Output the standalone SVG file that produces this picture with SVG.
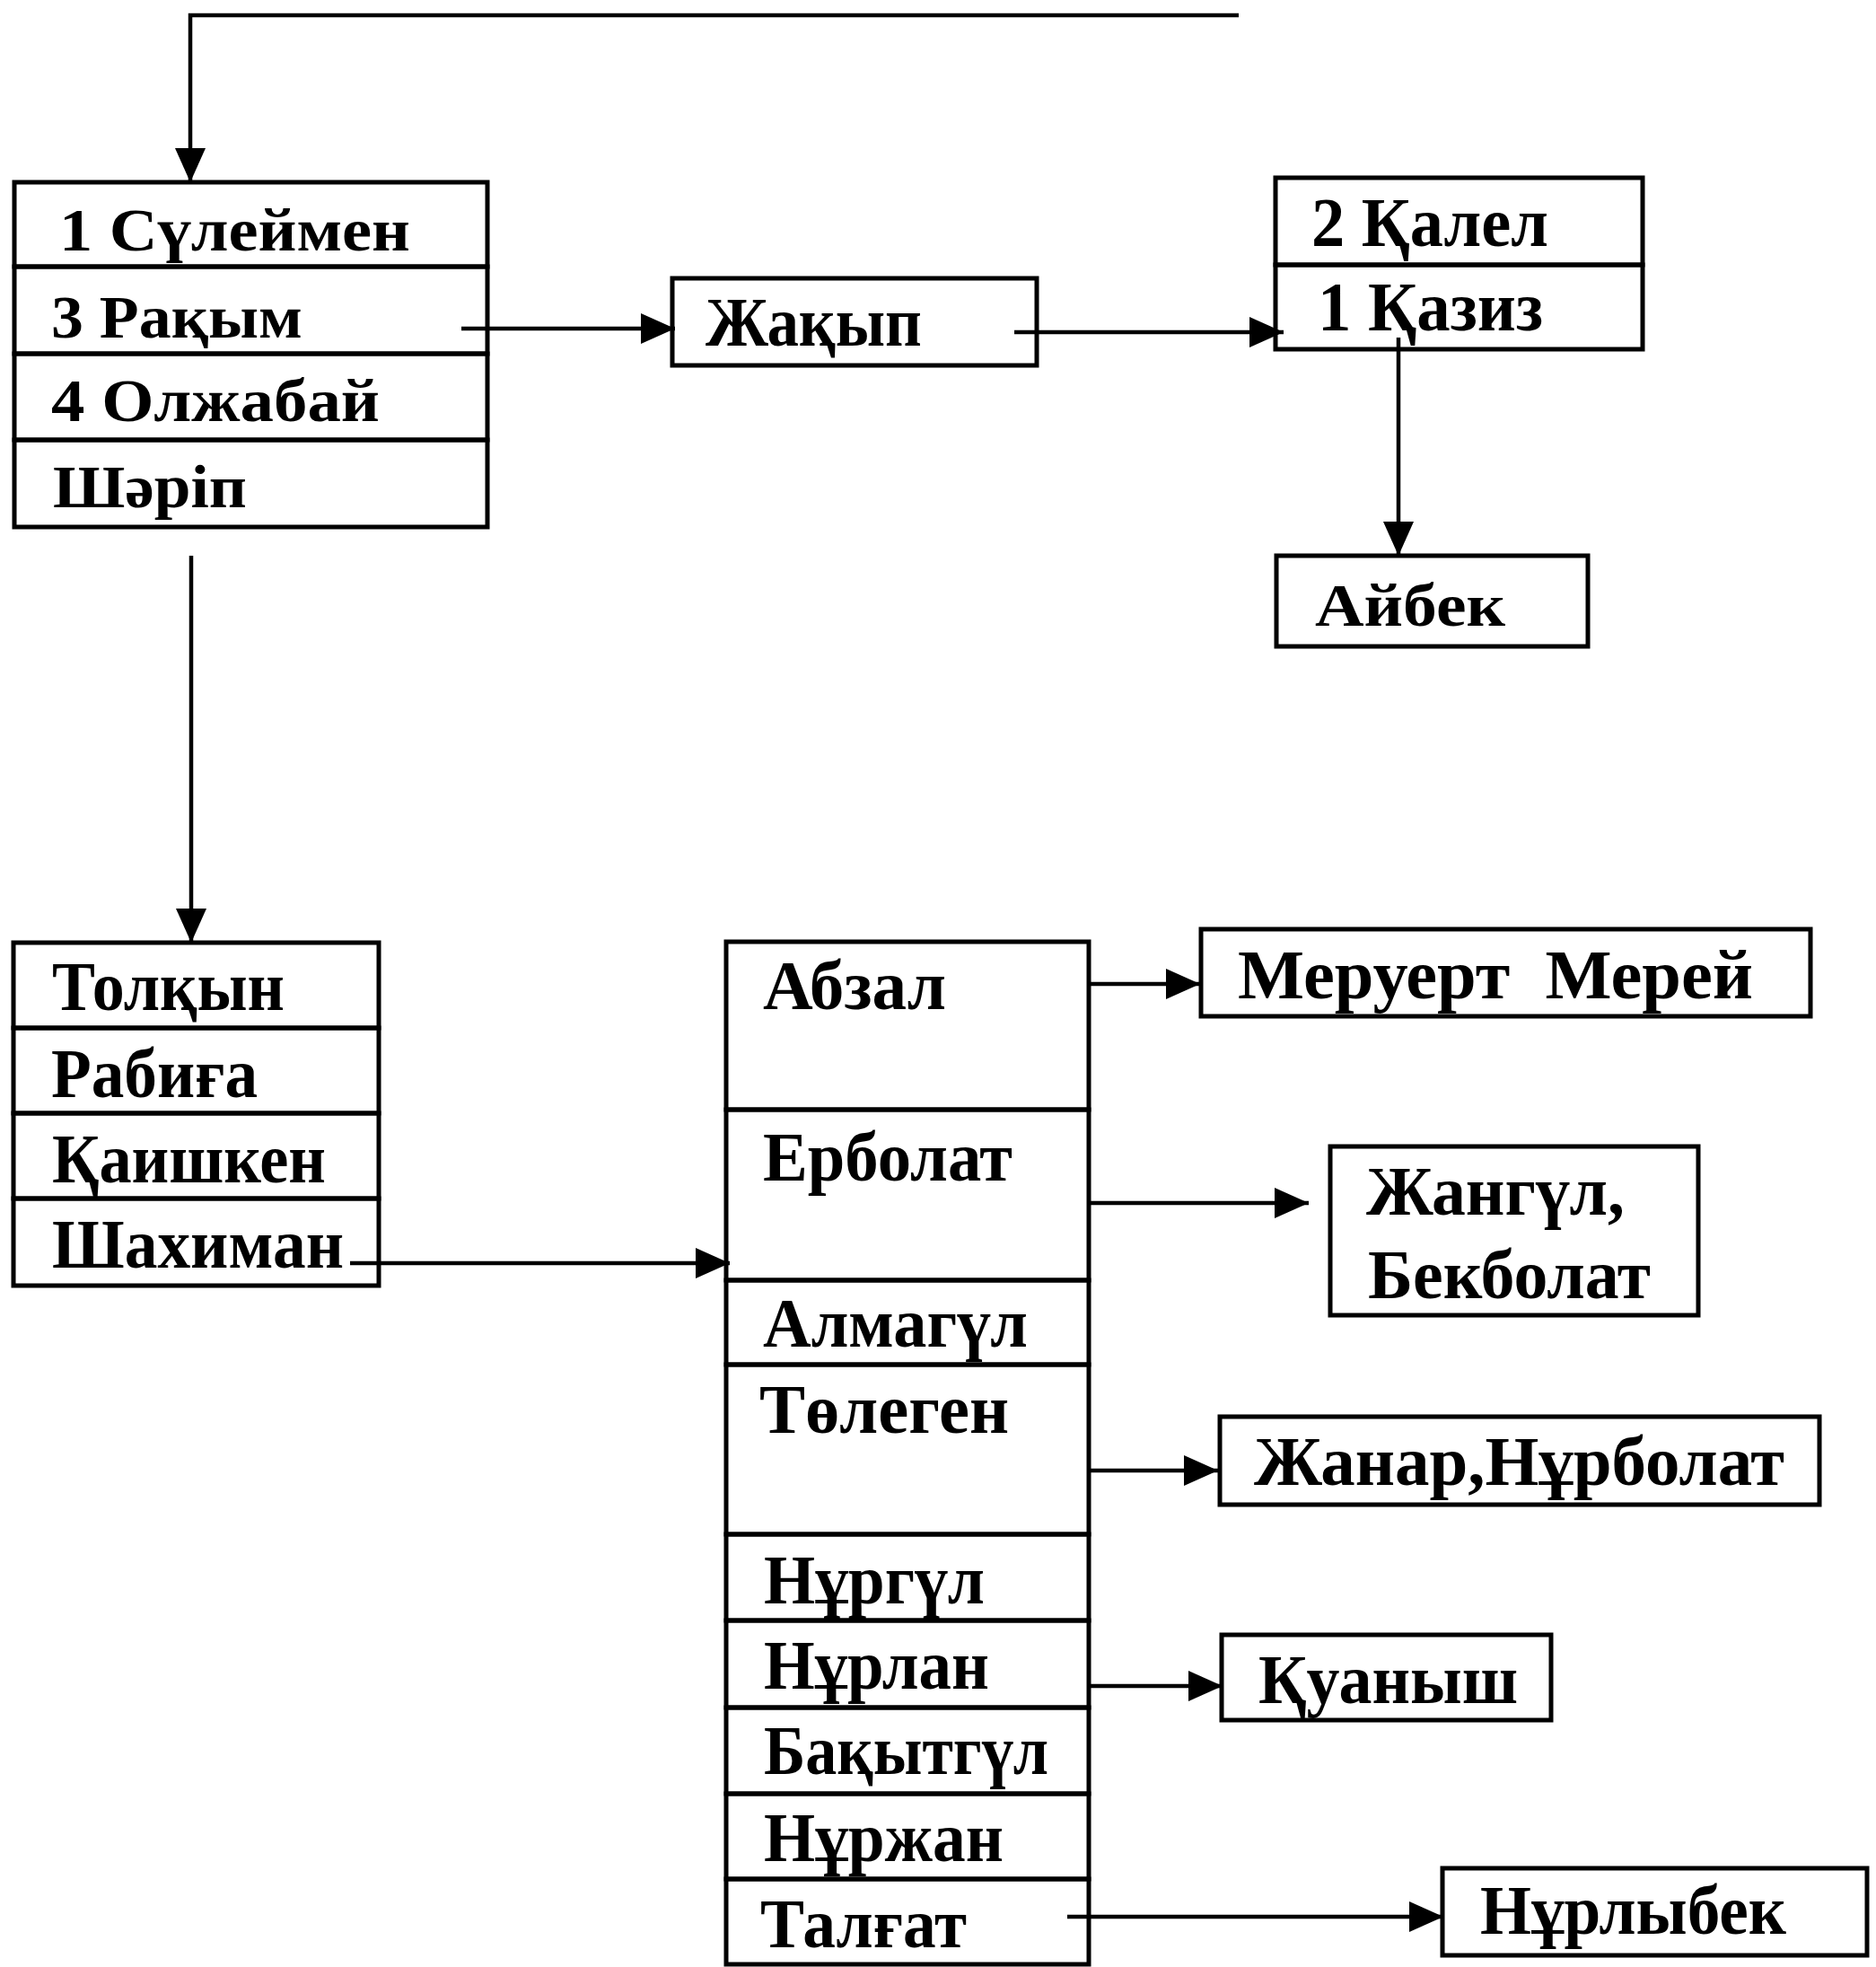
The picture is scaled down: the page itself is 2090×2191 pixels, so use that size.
<svg xmlns="http://www.w3.org/2000/svg" width="2090" height="2191" viewBox="0 0 2090 2191">
<style>
.b{fill:none;stroke:#000;stroke-width:5}
.t{font-family:"Liberation Serif","Times New Roman",serif;font-weight:bold;fill:#000;white-space:pre}
.s{font-size:68px}
.m{font-size:78px}
.c{fill:none;stroke:#000;stroke-width:4.5}
</style>
<defs>
<marker id="ah" markerUnits="userSpaceOnUse" markerWidth="40" markerHeight="36" refX="38" refY="17" orient="auto" viewBox="0 0 40 36">
<path d="M0,0 L38,17 L0,34 z" fill="#000"/>
</marker>
</defs>
<rect width="2090" height="2191" fill="#fff"/>

<g id="connectors">
<polyline class="c" points="1380,17 212,17 212,203" marker-end="url(#ah)"/>
<line class="c" x1="514" y1="366" x2="752" y2="366" marker-end="url(#ah)"/>
<line class="c" x1="1130" y1="370" x2="1430" y2="370" marker-end="url(#ah)"/>
<line class="c" x1="1558" y1="376" x2="1558" y2="619" marker-end="url(#ah)"/>
<line class="c" x1="213" y1="619" x2="213" y2="1050" marker-end="url(#ah)"/>
<line class="c" x1="390" y1="1407" x2="813" y2="1407" marker-end="url(#ah)"/>
<line class="c" x1="1213" y1="1096" x2="1337" y2="1096" marker-end="url(#ah)"/>
<line class="c" x1="1215" y1="1340" x2="1458" y2="1340" marker-end="url(#ah)"/>
<line class="c" x1="1215" y1="1638" x2="1357" y2="1638" marker-end="url(#ah)"/>
<line class="c" x1="1214" y1="1878" x2="1362" y2="1878" marker-end="url(#ah)"/>
<line class="c" x1="1189" y1="2135" x2="1608" y2="2135" marker-end="url(#ah)"/>
</g>

<g id="n-suleimen"><rect class="b" x="16" y="203" width="527" height="94"/><text class="t s" x="66" y="279" textLength="391" lengthAdjust="spacingAndGlyphs">1 Сүлеймен</text></g>
<g id="n-rakym"><rect class="b" x="16" y="297" width="527" height="97"/><text class="t s" x="57" y="376" textLength="280" lengthAdjust="spacingAndGlyphs">3 Рақым</text></g>
<g id="n-olzhabai"><rect class="b" x="16" y="394" width="527" height="96"/><text class="t s" x="57" y="469" textLength="366" lengthAdjust="spacingAndGlyphs">4 Олжабай</text></g>
<g id="n-sharip"><rect class="b" x="16" y="490" width="527" height="97"/><text class="t s" x="59" y="565" textLength="216" lengthAdjust="spacingAndGlyphs">Шәріп</text></g>

<g id="n-zhakyp"><rect class="b" x="749" y="310" width="406" height="97"/><text class="t m" x="786" y="385" textLength="241" lengthAdjust="spacingAndGlyphs">Жақып</text></g>

<g id="n-kalel"><rect class="b" x="1421" y="198" width="409" height="97"/><text class="t m" x="1461" y="274" textLength="264" lengthAdjust="spacingAndGlyphs">2 Қалел</text></g>
<g id="n-kaziz"><rect class="b" x="1421" y="295" width="409" height="94"/><text class="t m" x="1468" y="368" textLength="251" lengthAdjust="spacingAndGlyphs">1 Қазиз</text></g>

<g id="n-aibek"><rect class="b" x="1422" y="619" width="347" height="101"/><text class="t s" x="1465" y="697" textLength="212" lengthAdjust="spacingAndGlyphs">Айбек</text></g>

<g id="n-tolkyn"><rect class="b" x="15" y="1050" width="407" height="95"/><text class="t m" x="58" y="1125" textLength="259" lengthAdjust="spacingAndGlyphs">Толқын</text></g>
<g id="n-rabiga"><rect class="b" x="15" y="1145" width="407" height="95"/><text class="t m" x="57" y="1222" textLength="230" lengthAdjust="spacingAndGlyphs">Рабиға</text></g>
<g id="n-kaishken"><rect class="b" x="15" y="1240" width="407" height="95"/><text class="t m" x="58" y="1317" textLength="305" lengthAdjust="spacingAndGlyphs">Қаишкен</text></g>
<g id="n-shakhiman"><rect class="b" x="15" y="1335" width="407" height="97"/><text class="t m" x="58" y="1412" textLength="325" lengthAdjust="spacingAndGlyphs">Шахиман</text></g>

<g id="n-abzal"><rect class="b" x="809" y="1049" width="404" height="187"/><text class="t m" x="850" y="1124" textLength="204" lengthAdjust="spacingAndGlyphs">Абзал</text></g>
<g id="n-erbolat"><rect class="b" x="809" y="1236" width="404" height="190"/><text class="t m" x="850" y="1315" textLength="278" lengthAdjust="spacingAndGlyphs">Ерболат</text></g>
<g id="n-almagul"><rect class="b" x="809" y="1426" width="404" height="94"/><text class="t m" x="850" y="1500" textLength="295" lengthAdjust="spacingAndGlyphs">Алмагүл</text></g>
<g id="n-tolegen"><rect class="b" x="809" y="1520" width="404" height="189"/><text class="t m" x="846" y="1596" textLength="278" lengthAdjust="spacingAndGlyphs">Төлеген</text></g>
<g id="n-nurgul"><rect class="b" x="809" y="1709" width="404" height="96"/><text class="t m" x="851" y="1786" textLength="246" lengthAdjust="spacingAndGlyphs">Нұргүл</text></g>
<g id="n-nurlan"><rect class="b" x="809" y="1805" width="404" height="97"/><text class="t m" x="851" y="1881" textLength="251" lengthAdjust="spacingAndGlyphs">Нұрлан</text></g>
<g id="n-bakytgul"><rect class="b" x="809" y="1902" width="404" height="96"/><text class="t m" x="851" y="1976" textLength="317" lengthAdjust="spacingAndGlyphs">Бақытгүл</text></g>
<g id="n-nurzhan"><rect class="b" x="809" y="1998" width="404" height="95"/><text class="t m" x="851" y="2073" textLength="267" lengthAdjust="spacingAndGlyphs">Нұржан</text></g>
<g id="n-talgat"><rect class="b" x="809" y="2093" width="404" height="95"/><text class="t m" x="847" y="2169" textLength="230" lengthAdjust="spacingAndGlyphs">Талғат</text></g>

<g id="n-meruert"><rect class="b" x="1338" y="1035" width="679" height="97"/><text class="t m" x="1379" y="1112" textLength="574" lengthAdjust="spacingAndGlyphs">Меруерт  Мерей</text></g>
<g id="n-zhangul"><rect class="b" x="1482" y="1277" width="410" height="188"/><text class="t m" x="1522" y="1353" textLength="288" lengthAdjust="spacingAndGlyphs">Жангүл,</text><text class="t m" x="1524" y="1446" textLength="315" lengthAdjust="spacingAndGlyphs">Бекболат</text></g>
<g id="n-zhanar"><rect class="b" x="1359" y="1578" width="668" height="98"/><text class="t m" x="1397" y="1654" textLength="591" lengthAdjust="spacingAndGlyphs">Жанар,Нұрболат</text></g>
<g id="n-kuanysh"><rect class="b" x="1361" y="1821" width="367" height="95"/><text class="t m" x="1402" y="1897" textLength="289" lengthAdjust="spacingAndGlyphs">Қуаныш</text></g>
<g id="n-nurlybek"><rect class="b" x="1607" y="2081" width="473" height="97"/><text class="t m" x="1649" y="2154" textLength="341" lengthAdjust="spacingAndGlyphs">Нұрлыбек</text></g>
</svg>
